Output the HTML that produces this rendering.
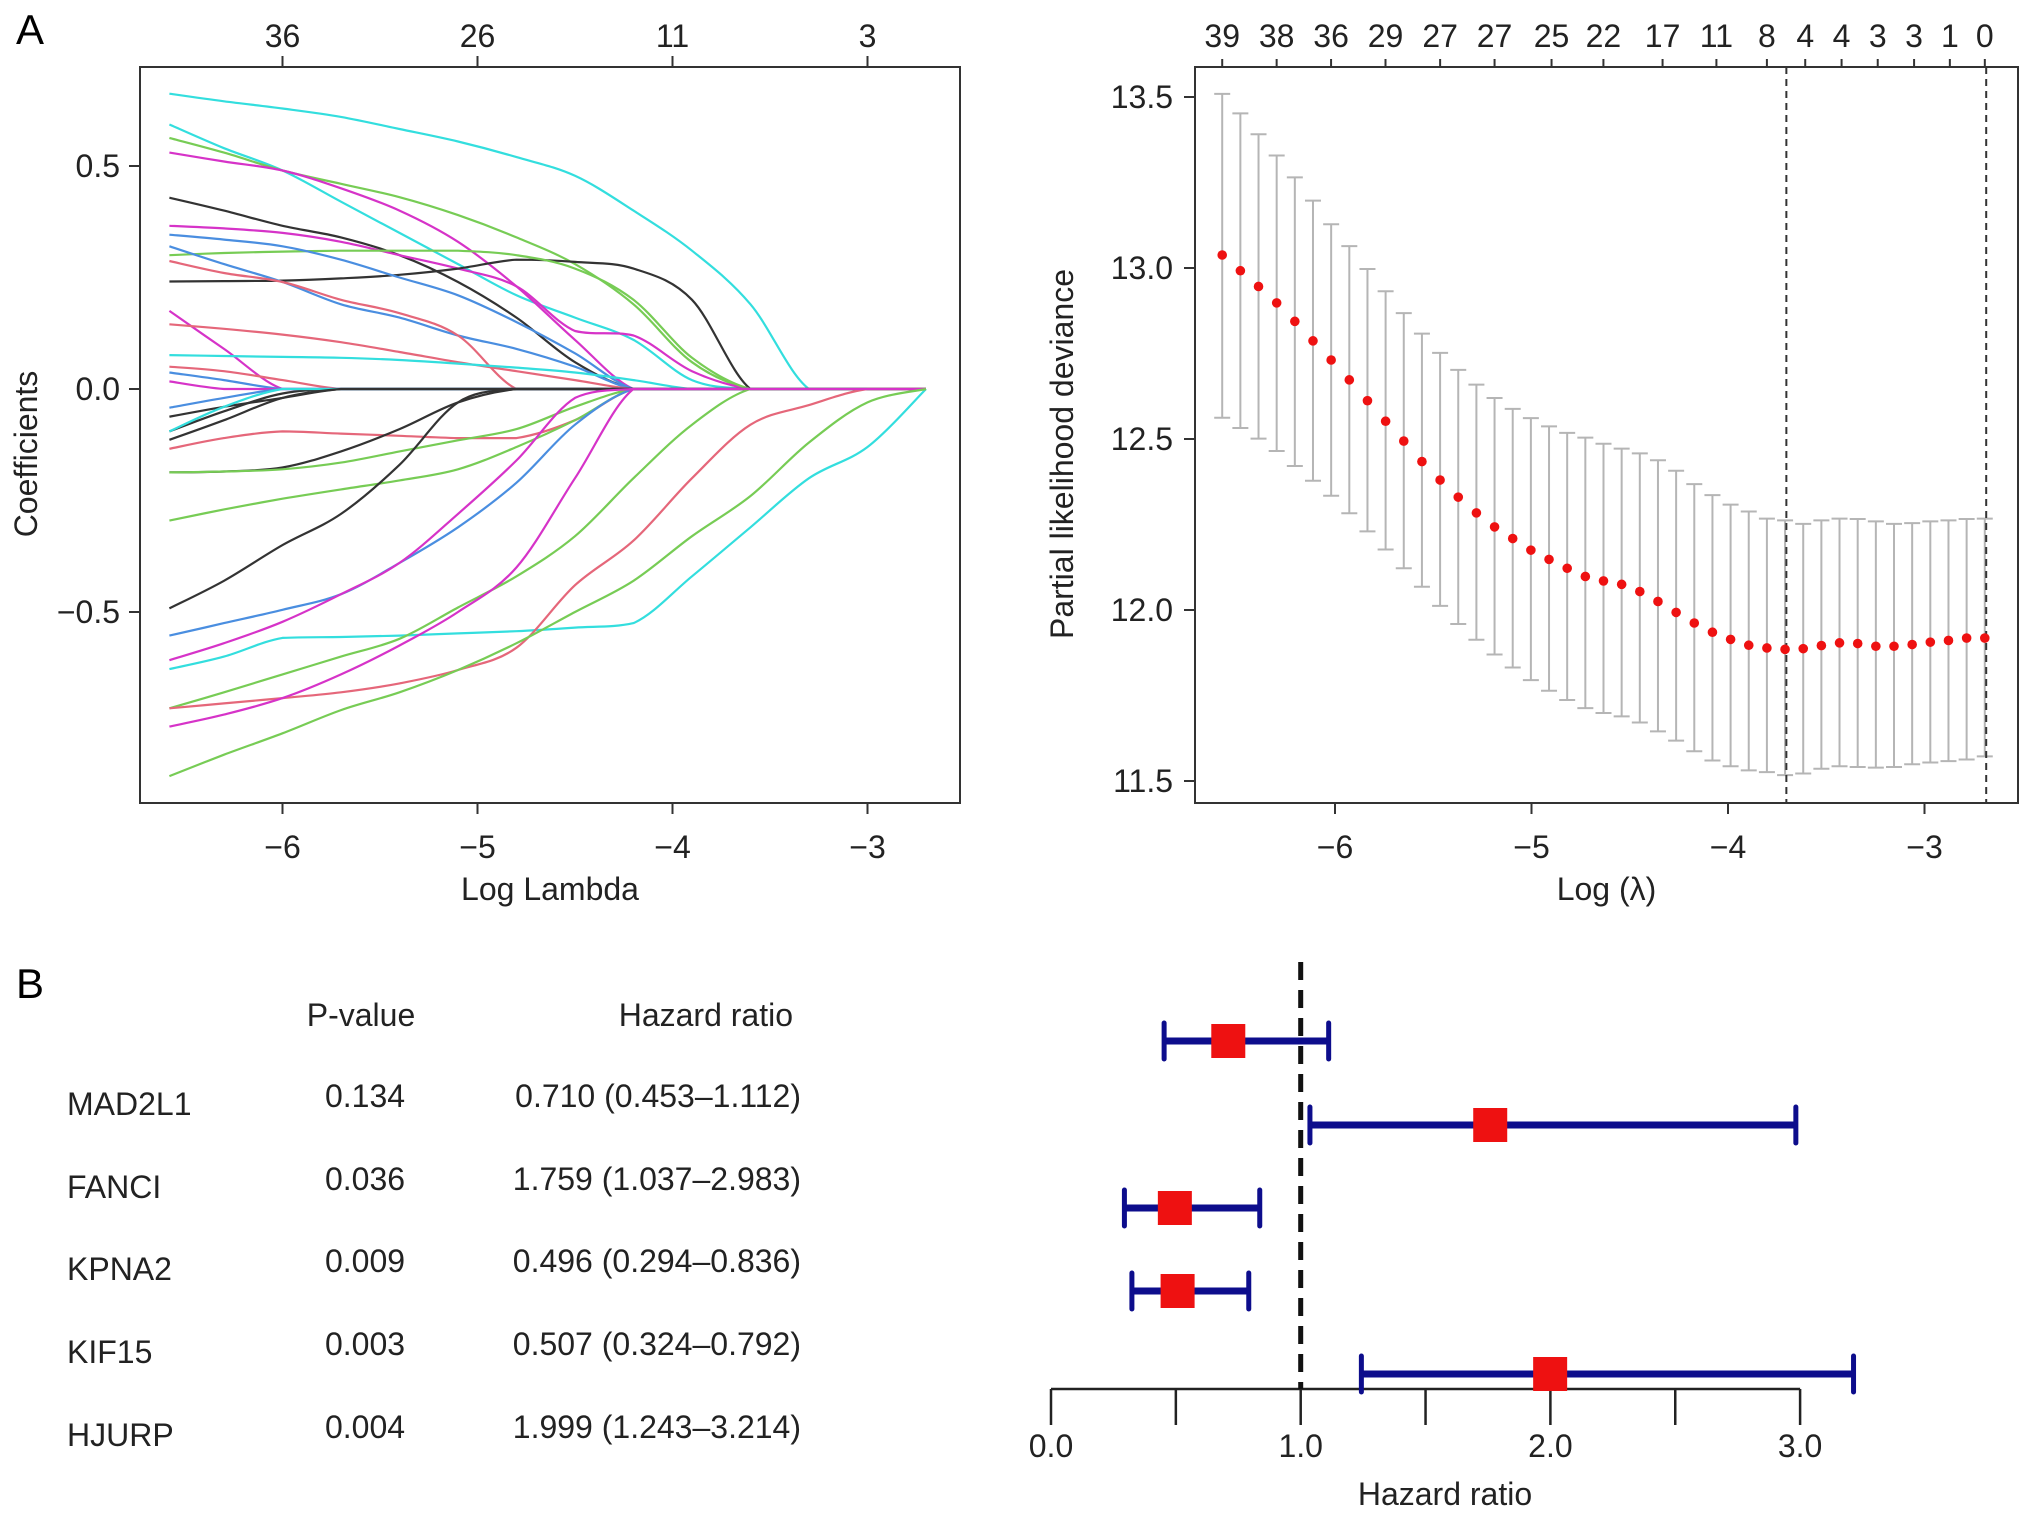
<!DOCTYPE html>
<html><head><meta charset="utf-8"><style>
html,body{margin:0;padding:0;background:#fff}
svg{display:block;font-family:"Liberation Sans",Arial,sans-serif}
</style></head><body>
<svg id="fig" width="2032" height="1518" viewBox="0 0 2032 1518" xmlns="http://www.w3.org/2000/svg">
<text x="16" y="44" font-size="42">A</text>
<text x="16" y="998" font-size="42">B</text>
<g id="pathPlot"></g>
<g id="cvPlot"></g>
<g id="forest"></g>
</svg>
<script>
// ---------- Coefficient path data ----------
const lamGrid = [-6.58,-6.3,-6.0,-5.7,-5.4,-5.1,-4.8,-4.5,-4.2,-3.9,-3.6,-3.3,-3.0,-2.7];
const pathColors = ["#33dede","#33dede","#77cc55","#d633c8","#333333","#d633c8","#333333","#77cc55","#4a8ee0","#4a8ee0","#e5677a","#d633c8","#e5677a","#33dede","#e5677a","#4a8ee0","#d633c8","#4a8ee0","#333333","#333333","#33dede","#333333","#e5677a","#333333","#77cc55","#77cc55","#333333","#4a8ee0","#d633c8","#33dede","#77cc55","#e5677a","#d633c8","#77cc55"];
const pathValues = [
[0.662,0.645,0.629,0.61,0.583,0.555,0.52,0.478,0.40,0.31,0.19,0],
[0.593,0.54,0.49,0.42,0.35,0.28,0.21,0.16,0.11,0.02,0],
[0.563,0.53,0.49,0.46,0.43,0.39,0.34,0.28,0.19,0.06,0],
[0.53,0.51,0.49,0.45,0.40,0.33,0.23,0.11,0],
[0.429,0.40,0.366,0.34,0.30,0.24,0.16,0.06,0],
[0.366,0.36,0.35,0.33,0.30,0.27,0.23,0.13,0.12,0.04,0],
[0.241,0.242,0.243,0.248,0.256,0.27,0.29,0.285,0.27,0.2,0],
[0.30,0.305,0.308,0.31,0.31,0.31,0.30,0.27,0.2,0.07,0],
[0.346,0.335,0.32,0.29,0.25,0.21,0.15,0.08,0],
[0.32,0.28,0.24,0.19,0.16,0.12,0.09,0.05,0],
[0.287,0.26,0.24,0.2,0.17,0.12,0],
[0.175,0.09,0],
[0.145,0.135,0.122,0.105,0.083,0.06,0.04,0.02,0],
[0.076,0.074,0.072,0.07,0.065,0.057,0.048,0.037,0.02,0],
[0.05,0.04,0.02,0],
[0.037,0.02,0],
[0.017,0],
[-0.042,-0.02,0],
[-0.062,-0.04,-0.02,0],
[-0.095,-0.05,-0.01,0],
[-0.095,-0.04,0],
[-0.114,-0.07,-0.02,0],
[-0.134,-0.11,-0.095,-0.1,-0.105,-0.11,-0.11,-0.07,0],
[-0.187,-0.185,-0.176,-0.14,-0.09,-0.03,0],
[-0.187,-0.185,-0.18,-0.165,-0.14,-0.115,-0.09,-0.04,0],
[-0.295,-0.27,-0.246,-0.225,-0.205,-0.18,-0.13,-0.07,0],
[-0.492,-0.43,-0.35,-0.28,-0.17,-0.03,0],
[-0.553,-0.525,-0.495,-0.46,-0.39,-0.31,-0.21,-0.08,0],
[-0.608,-0.57,-0.522,-0.46,-0.39,-0.28,-0.16,-0.02,0],
[-0.628,-0.6,-0.558,-0.556,-0.553,-0.548,-0.543,-0.535,-0.525,-0.42,-0.31,-0.2,-0.13,0],
[-0.716,-0.68,-0.64,-0.6,-0.56,-0.49,-0.42,-0.33,-0.2,-0.08,0],
[-0.716,-0.705,-0.693,-0.68,-0.66,-0.63,-0.58,-0.44,-0.34,-0.2,-0.08,-0.036,0,0],
[-0.757,-0.73,-0.693,-0.64,-0.575,-0.5,-0.4,-0.2,0],
[-0.868,-0.82,-0.772,-0.72,-0.68,-0.63,-0.57,-0.5,-0.43,-0.33,-0.24,-0.12,-0.03,0]
];
const pathXTicks = [-6,-5,-4,-3];
const pathYTicks = [0.5,0.0,-0.5];
const pathYTickLabels = ["0.5","0.0","\u22120.5"];
const pathTopLabels = ["36","26","11","3"];

// ---------- CV data ----------
const cvStart = -6.574, cvStep = 0.0924;
const cvMean = [13.038,12.992,12.946,12.898,12.844,12.787,12.731,12.673,12.612,12.552,12.494,12.434,12.380,12.330,12.284,12.243,12.209,12.175,12.148,12.122,12.098,12.085,12.075,12.054,12.025,11.993,11.962,11.935,11.914,11.897,11.889,11.885,11.887,11.896,11.904,11.902,11.894,11.894,11.899,11.906,11.911,11.918,11.918];
const cvUpper = [13.509,13.452,13.391,13.329,13.265,13.197,13.128,13.064,12.997,12.932,12.868,12.808,12.752,12.702,12.659,12.620,12.588,12.561,12.537,12.518,12.504,12.486,12.472,12.458,12.438,12.407,12.368,12.336,12.308,12.288,12.267,12.262,12.252,12.262,12.267,12.266,12.259,12.252,12.254,12.259,12.262,12.266,12.267];
const cvLower = [12.562,12.532,12.501,12.465,12.421,12.378,12.334,12.283,12.230,12.177,12.122,12.068,12.012,11.959,11.913,11.870,11.832,11.795,11.764,11.737,11.713,11.699,11.689,11.671,11.645,11.618,11.587,11.560,11.543,11.531,11.526,11.517,11.522,11.536,11.543,11.541,11.539,11.541,11.549,11.554,11.558,11.563,11.572];
const cvVLines = [-3.703,-2.686];
const cvXTicks = [-6,-5,-4,-3];
const cvYTicks = [13.5,13.0,12.5,12.0,11.5];
const cvYTickLabels = ["13.5","13.0","12.5","12.0","11.5"];
const cvTopLabels = ["39","38","36","29","27","27","25","22","17","11","8","4","4","3","3","1","0"];
const cvTopPos = [-6.574,-6.297,-6.020,-5.743,-5.465,-5.188,-4.898,-4.634,-4.333,-4.059,-3.802,-3.607,-3.422,-3.238,-3.053,-2.871,-2.693];

// ---------- Forest data ----------
const genes = ["MAD2L1","FANCI","KPNA2","KIF15","HJURP"];
const pvals = ["0.134","0.036","0.009","0.003","0.004"];
const hr = [0.710,1.759,0.496,0.507,1.999];
const hrLo = [0.453,1.037,0.294,0.324,1.243];
const hrHi = [1.112,2.983,0.836,0.792,3.214];
const forestTicks = [0,0.5,1,1.5,2,2.5,3];
const forestTickLabels = ["0.0","1.0","2.0","3.0"];
const forestTickLabelVals = [0,1,2,3];

const NS="http://www.w3.org/2000/svg";
function mk(parent,tag,attrs,text){const e=document.createElementNS(NS,tag);for(const k in attrs)e.setAttribute(k,attrs[k]);if(text!==undefined)e.textContent=text;parent.appendChild(e);return e;}
const FS=32;

function smoothPath(pts){
 // monotone-ish Catmull-Rom -> cubic bezier
 let d="M"+pts[0][0].toFixed(1)+","+pts[0][1].toFixed(1);
 for(let i=0;i<pts.length-1;i++){
  const p0=pts[Math.max(0,i-1)],p1=pts[i],p2=pts[i+1],p3=pts[Math.min(pts.length-1,i+2)];
  let c1y=p1[1]+(p2[1]-p0[1])/6, c2y=p2[1]-(p3[1]-p1[1])/6;
  const lo=Math.min(p1[1],p2[1]),hi=Math.max(p1[1],p2[1]);
  c1y=Math.min(hi,Math.max(lo,c1y)); c2y=Math.min(hi,Math.max(lo,c2y));
  const c1x=p1[0]+(p2[0]-p0[0])/6, c2x=p2[0]-(p3[0]-p1[0])/6;
  d+="C"+c1x.toFixed(1)+","+c1y.toFixed(1)+" "+c2x.toFixed(1)+","+c2y.toFixed(1)+" "+p2[0].toFixed(1)+","+p2[1].toFixed(1);
 }
 return d;
}

// ===== Panel A left: coefficient paths =====
(function(){
 const g=document.getElementById('pathPlot');
 const L=140,R=960,T=67,B=803;
 const xs=v=>282.5+(v+6)*195;
 const ys=v=>389-v*446;
 pathValues.forEach((arr,i)=>{
  const pts=lamGrid.map((lx,j)=>[xs(lx),ys(j<arr.length?arr[j]:0)]);
  const p=mk(g,'path',{d:smoothPath(pts),fill:'none',stroke:pathColors[i],'stroke-width':2.2,'stroke-linejoin':'round'});
  
  
 });
 const box=mk(g,'rect',{x:L,y:T,width:R-L,height:B-T,fill:'none',stroke:'#333','stroke-width':2});
 
 pathXTicks.forEach((t,i)=>{
  const x=xs(t);
  mk(g,'line',{x1:x,y1:B,x2:x,y2:B+11,stroke:'#333','stroke-width':2});
  const tl=mk(g,'text',{x:x,y:B+55,'font-size':FS,'text-anchor':'middle',fill:'#222'},"\u2212"+Math.abs(t));
  
  mk(g,'line',{x1:x,y1:T,x2:x,y2:T-11,stroke:'#333','stroke-width':2});
  const tt=mk(g,'text',{x:x,y:T-20,'font-size':FS,'text-anchor':'middle',fill:'#222'},pathTopLabels[i]);
  
 });
 pathYTicks.forEach((t,i)=>{
  const y=ys(t);
  mk(g,'line',{x1:L,y1:y,x2:L-11,y2:y,stroke:'#333','stroke-width':2});
  const tl=mk(g,'text',{x:L-20,y:y+11,'font-size':FS,'text-anchor':'end',fill:'#222'},pathYTickLabels[i]);
  
 });
 const xt=mk(g,'text',{x:(L+R)/2,y:900,'font-size':FS,'text-anchor':'middle',fill:'#222'},"Log Lambda");
 
 const yt=mk(g,'text',{x:0,y:0,'font-size':FS,'text-anchor':'middle',fill:'#222',transform:'translate(37,454) rotate(-90)'},"Coefficients");
 
})();

// ===== Panel A right: CV deviance =====
(function(){
 const g=document.getElementById('cvPlot');
 const L=1195,R=2018,T=67,B=803;
 const xs=v=>1335+(v+6)*196.5;
 const ys=v=>268+(13-v)*342;
 cvMean.forEach((m,i)=>{
  const x=xs(cvStart+i*cvStep);
  const e=mk(g,'g',{});
  
  mk(e,'line',{x1:x,y1:ys(cvUpper[i]),x2:x,y2:ys(cvLower[i]),stroke:'#b5b5b5','stroke-width':2});
  mk(e,'line',{x1:x-8,y1:ys(cvUpper[i]),x2:x+8,y2:ys(cvUpper[i]),stroke:'#b5b5b5','stroke-width':2});
  mk(e,'line',{x1:x-8,y1:ys(cvLower[i]),x2:x+8,y2:ys(cvLower[i]),stroke:'#b5b5b5','stroke-width':2});
 });
 cvVLines.forEach(v=>{
  const l=mk(g,'line',{x1:xs(v),y1:T,x2:xs(v),y2:B,stroke:'#333','stroke-width':2,'stroke-dasharray':'7,5'});
  
 });
 cvMean.forEach((m,i)=>{
  const c=mk(g,'circle',{cx:xs(cvStart+i*cvStep),cy:ys(m),r:4.8,fill:'#ee1111'});
  
 });
 const box=mk(g,'rect',{x:L,y:T,width:R-L,height:B-T,fill:'none',stroke:'#333','stroke-width':2});
 
 cvXTicks.forEach(t=>{
  const x=xs(t);
  mk(g,'line',{x1:x,y1:B,x2:x,y2:B+11,stroke:'#333','stroke-width':2});
  const tl=mk(g,'text',{x:x,y:B+55,'font-size':FS,'text-anchor':'middle',fill:'#222'},"\u2212"+Math.abs(t));
  
 });
 cvTopLabels.forEach((s,i)=>{
  const x=xs(cvTopPos[i]);
  mk(g,'line',{x1:x,y1:T,x2:x,y2:T-8,stroke:'#333','stroke-width':2});
  const tt=mk(g,'text',{x:x,y:T-20,'font-size':FS,'text-anchor':'middle',fill:'#222'},s);
  
 });
 cvYTicks.forEach((t,i)=>{
  const y=ys(t);
  mk(g,'line',{x1:L,y1:y,x2:L-11,y2:y,stroke:'#333','stroke-width':2});
  const tl=mk(g,'text',{x:L-22,y:y+11,'font-size':FS,'text-anchor':'end',fill:'#222'},cvYTickLabels[i]);
  
 });
 const xt=mk(g,'text',{x:(L+R)/2,y:900,'font-size':FS,'text-anchor':'middle',fill:'#222'},"Log (\u03bb)");
 
 const yt=mk(g,'text',{x:0,y:0,'font-size':FS,'text-anchor':'middle',fill:'#222',transform:'translate(1073,454) rotate(-90)'},"Partial likelihood deviance");
 
})();

// ===== Panel B: forest =====
(function(){
 const g=document.getElementById('forest');
 const xs=v=>1051+v*249.7;
 const rowY=[1041,1125,1208,1291,1374];
 const textY=[1104,1187,1269,1352,1435];
 const pY=[1096,1179,1261,1344,1427];
 const FF=32;
 let t=mk(g,'text',{x:361,y:1026,'font-size':FF,'text-anchor':'middle',fill:'#222'},"P-value");
 
 t=mk(g,'text',{x:793,y:1026,'font-size':FF,'text-anchor':'end',fill:'#222'},"Hazard ratio");
 
 genes.forEach((gn,i)=>{
  let a=mk(g,'text',{x:67,y:textY[i]+11,'font-size':FF,fill:'#222'},gn);
  
  a=mk(g,'text',{x:365,y:pY[i]+11,'font-size':FF,'text-anchor':'middle',fill:'#222'},pvals[i]);
  
  a=mk(g,'text',{x:801,y:pY[i]+11,'font-size':FF,'text-anchor':'end',fill:'#222'},hr[i].toFixed(3)+" ("+hrLo[i].toFixed(3)+"\u2013"+hrHi[i].toFixed(3)+")");
  
 });
 const axY=1389;
 const ax=mk(g,'line',{x1:xs(0),y1:axY,x2:xs(3),y2:axY,stroke:'#222','stroke-width':2.5});
 
 forestTicks.forEach(v=>{mk(g,'line',{x1:xs(v),y1:axY,x2:xs(v),y2:axY+36,stroke:'#222','stroke-width':2.5});});
 forestTickLabelVals.forEach((v,i)=>{
  const a=mk(g,'text',{x:xs(v),y:1457,'font-size':FF,'text-anchor':'middle',fill:'#222'},forestTickLabels[i]);
  
 });
 const xt=mk(g,'text',{x:1445,y:1505,'font-size':FF,'text-anchor':'middle',fill:'#222'},"Hazard ratio");
 
 const ref=mk(g,'line',{x1:xs(1),y1:962,x2:xs(1),y2:axY,stroke:'#111','stroke-width':5,'stroke-dasharray':'18,10'});
 
 hr.forEach((h,i)=>{
  const y=rowY[i];
  const grp=mk(g,'g',{});
  
  
  mk(grp,'line',{x1:xs(hrLo[i]),y1:y,x2:xs(hrHi[i]),y2:y,stroke:'#0d0d8c','stroke-width':7});
  mk(grp,'line',{x1:xs(hrLo[i]),y1:y-18,x2:xs(hrLo[i]),y2:y+18,stroke:'#0d0d8c','stroke-width':5,'stroke-linecap':'round'});
  mk(grp,'line',{x1:xs(hrHi[i]),y1:y-18,x2:xs(hrHi[i]),y2:y+18,stroke:'#0d0d8c','stroke-width':5,'stroke-linecap':'round'});
  const sq=mk(g,'rect',{x:xs(h)-17,y:y-17,width:34,height:34,fill:'#ee1111'});
  
  
 });
})();
</script>
</body></html>
